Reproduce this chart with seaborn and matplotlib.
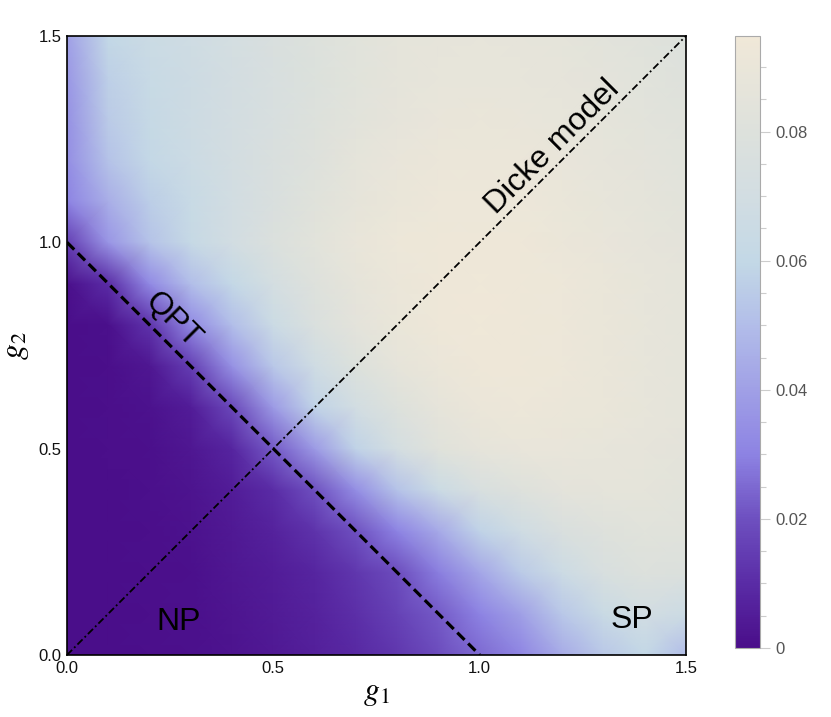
import numpy as np
import seaborn as sns
import matplotlib.pyplot as plt
from matplotlib.colors import LinearSegmentedColormap
from matplotlib.ticker import MultipleLocator, FuncFormatter

# grid of couplings
g1_grid = [0.0, 0.1, 0.2, 0.3, 0.4, 0.5, 0.6, 0.7, 0.8, 0.9, 1.0, 1.1, 1.2, 1.3, 1.4, 1.5]
g2_grid = [0.0, 0.1, 0.2, 0.3, 0.4, 0.5, 0.6, 0.7, 0.8, 0.9, 1.0, 1.1, 1.2, 1.3, 1.4, 1.5]

# values, in units of 1e-3; one row per g2 (bottom row first)
field_milli = [
    [0, 0, 0.5, 1, 2, 4, 6, 9, 13, 19, 25, 31, 44, 54, 60, 50],
    [0, 0, 0.5, 1, 2.5, 4.5, 7, 11, 16, 22, 30, 40, 54, 64, 70, 66],
    [0, 0, 0.5, 1, 3, 5, 8, 13, 19, 29, 42, 55, 66, 75, 80, 78],
    [0, 0, 0.5, 1.5, 4, 7, 12, 20, 30, 43, 58, 68, 76, 81, 83, 82],
    [0, 0, 1, 2, 5, 10, 20, 34, 52, 65, 75, 81, 85, 86, 86, 84],
    [0, 0.5, 1, 3, 8, 22, 38, 58, 72, 82, 87, 89, 89, 88, 87, 85],
    [0, 0.5, 1.5, 5, 18, 38, 58, 70, 80, 87, 91, 92, 91, 90, 88, 86],
    [0, 0.5, 3, 15, 35, 54, 68, 79, 87, 91, 93, 93, 92, 90, 88, 86],
    [0, 1, 12, 32, 50, 65, 77, 85, 90, 93, 94, 93, 92, 90, 88, 86],
    [1, 10, 32, 50, 61, 72, 81, 87, 91, 93, 94, 93, 92, 90, 88, 86],
    [15, 36, 52, 62, 70, 78, 84, 89, 92, 93, 93, 93, 91, 89, 87, 85],
    [30, 45, 56, 63, 70, 76, 82, 87, 90, 92, 92, 92, 90, 88, 86, 84],
    [34, 52, 61, 66, 71, 76, 81, 86, 89, 91, 91, 91, 89, 87, 85, 83],
    [35, 55, 62, 67, 71, 75, 80, 84, 87, 89, 90, 89, 88, 86, 84, 82],
    [37, 57, 63, 67, 71, 75, 79, 83, 86, 88, 88, 88, 87, 85, 83, 81],
    [40, 60, 65, 68, 72, 76, 80, 83, 86, 87, 88, 87, 86, 84, 82, 79],
]

# phase boundary and Dicke line
qpt_g1 = [0.0, 1.0]
qpt_g2 = [1.0, 0.0]
dicke_g1 = [0.0, 1.5]
dicke_g2 = [0.0, 1.5]

cbar_ticks = [0, 0.02, 0.04, 0.06, 0.08]
axis_ticks = [0.0, 0.5, 1.0, 1.5]

vmax = 0.0948

sns.set_style("white")
plt.rcParams['font.family'] = ['Liberation Sans', 'DejaVu Sans']
plt.rcParams['mathtext.fontset'] = 'stix'
plt.rcParams['text.color'] = 'black'
plt.rcParams['axes.labelcolor'] = 'black'

# purple -> lavender -> light blue -> beige
stops = [0.0, 0.01, 0.02, 0.03, 0.04, 0.05, 0.06, 0.07, 0.08, vmax]
stop_colors = ['#4a0e8a', '#5a2ca6', '#6e50c0', '#8d83e3', '#a0a0e6',
               '#b2bde9', '#c3d8e6', '#d2dde2', '#dde1dc', '#f0e8d8']
cmap = LinearSegmentedColormap.from_list(
    'purple_beige', [(s / vmax, c) for s, c in zip(stops, stop_colors)])

fig = plt.figure(figsize=(8.31, 7.17), dpi=100)
ax = fig.add_axes([0.0806, 0.0865, 0.7449, 0.8633])
cax = fig.add_axes([0.8845, 0.0962, 0.0301, 0.8536])

field = np.array(field_milli) / 1000.0
mesh = ax.pcolormesh(g1_grid, g2_grid, field, shading='gouraud',
                     cmap=cmap, vmin=0, vmax=vmax, rasterized=True)

sns.lineplot(x=qpt_g1, y=qpt_g2, ax=ax, color='black', linewidth=2.3,
             linestyle=(0, (3.2, 1.6)), estimator=None, sort=False)
sns.lineplot(x=dicke_g1, y=dicke_g2, ax=ax, color='black', linewidth=1.3,
             linestyle=(0, (4, 1.6, 1, 1.6)), estimator=None, sort=False)

ax.set_xlim(0, 1.5)
ax.set_ylim(0, 1.5)
ax.set_xticks(axis_ticks)
ax.set_yticks(axis_ticks)
ax.xaxis.set_major_formatter(FuncFormatter(lambda v, p: f"{v:.1f}"))
ax.yaxis.set_major_formatter(FuncFormatter(lambda v, p: f"{v:.1f}"))
ax.tick_params(length=0, labelsize=12, pad=4, labelcolor='#111111')
for sp in ax.spines.values():
    sp.set_visible(True)
    sp.set_color('black')
    sp.set_linewidth(1.2)

ax.set_xlabel('$g_1$', fontsize=23, labelpad=2, color='black')
ax.set_ylabel('$g_2$', fontsize=23, labelpad=5, color='black')

ax.text(0.257, 0.811, 'QPT', fontsize=23, rotation=-45, ha='center', va='center',
        rotation_mode='anchor', color='black')
ax.text(1.178, 1.232, 'Dicke model', fontsize=23, rotation=45, ha='center', va='center',
        rotation_mode='anchor', color='black')
ax.text(0.271, 0.080, 'NP', fontsize=23, ha='center', va='center', color='black')
ax.text(1.368, 0.085, 'SP', fontsize=23, ha='center', va='center', color='black')

cb = fig.colorbar(mesh, cax=cax)
cb.set_ticks(cbar_ticks)
cb.ax.yaxis.set_major_formatter(FuncFormatter(lambda v, p: f"{v:g}"))
cb.ax.yaxis.set_minor_locator(MultipleLocator(0.005))
cb.outline.set_edgecolor('#aaaaaa')
cb.outline.set_linewidth(0.8)
cax.tick_params(which='major', length=7, width=0.8, color='#cccccc',
                labelsize=12, labelcolor='#555555', pad=4)
cax.tick_params(which='minor', length=4, width=0.8, color='#cccccc')

fig.savefig('out.png', dpi=100)
